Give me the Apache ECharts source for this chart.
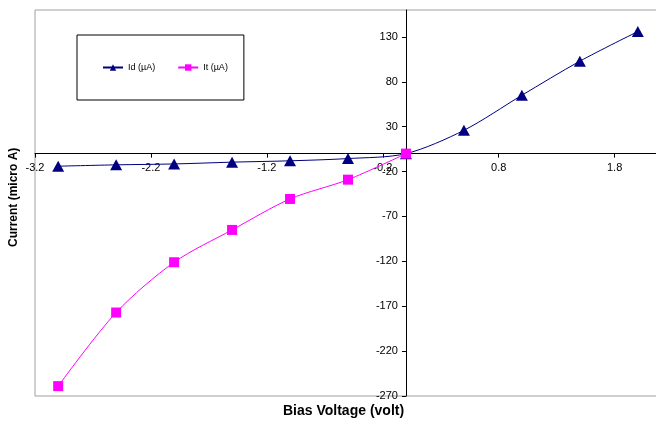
<!DOCTYPE html>
<html>
<head>
<meta charset="utf-8">
<script src="https://cdn.jsdelivr.net/npm/echarts@6/dist/echarts.min.js"></script>
<style>
html,body{margin:0;padding:0;background:#fff;}
#chart{width:656px;height:423px;}
</style>
</head>
<body>
<div id="chart"></div>
<script>
var biasVoltage = [-3.0, -2.5, -2.0, -1.5, -1.0, -0.5, 0.0, 0.5, 1.0, 1.5, 2.0];
var idValues = [-14, -12.5, -11.5, -9.5, -8, -5.5, 0, 26, 65, 103, 136];
var itVoltage = [-3.0, -2.5, -2.0, -1.5, -1.0, -0.5, 0.0];
var itValues = [-259, -177, -121, -85, -50.5, -29, 0];
var xTicks = [-3.2, -2.2, -1.2, -0.2, 0.8, 1.8];
var yTicks = [-270, -220, -170, -120, -70, -20, 30, 80, 130];

function pairs(xs, ys) { return xs.map(function (x, i) { return [x, ys[i]]; }); }

var font = 'Liberation Sans, Arial, sans-serif';
var gridLeft = 35, gridTop = 10, gridRight = -5, gridBottom = 27;
var W = 656, H = 423;
var chart = echarts.init(document.getElementById('chart'));
chart.setOption({
  animation: false,
  backgroundColor: '#fff',
  grid: {
    left: gridLeft, top: gridTop, right: gridRight, bottom: gridBottom,
    show: true, borderColor: '#a0a0a0', borderWidth: 1,
    outerBoundsMode: 'none'
  },
  legend: {
    left: 77, top: 35,
    orient: 'horizontal',
    backgroundColor: '#fff',
    borderColor: '#000', borderWidth: 1,
    padding: [28, 16, 28, 25],
    itemWidth: 20, itemHeight: 8, itemGap: 22,
    textStyle: { fontFamily: font, fontSize: 9, color: '#000' },
    data: ['Id (µA)', 'It (µA)']
  },
  xAxis: {
    type: 'value', min: -3.2, max: 2.2,
    axisLine: { onZero: false, lineStyle: { color: '#000', width: 1 } },
    axisTick: { show: true, length: 4, customValues: xTicks, lineStyle: { color: '#000' } },
    axisLabel: { customValues: xTicks, margin: 9, fontFamily: font, fontSize: 11, color: '#000',
      formatter: function (v) { return v.toFixed(1); } },
    splitLine: { show: false }
  },
  yAxis: {
    type: 'value', min: -270, max: 160,
    axisLine: { onZero: false, lineStyle: { color: '#000', width: 1 } },
    axisTick: { show: true, length: 4, customValues: yTicks, lineStyle: { color: '#000' } },
    axisLabel: { customValues: yTicks, margin: 8, fontFamily: font, fontSize: 11, color: '#000' },
    splitLine: { show: false }
  },
  graphic: [
    { type: 'text', left: 283, top: 404,
      style: { text: 'Bias Voltage (volt)', font: 'bold 14px ' + font, fill: '#000' } },
    { type: 'text', x: 8, y: 247, rotation: Math.PI / 2,
      style: { text: 'Current (micro A)', font: 'bold 12px ' + font, fill: '#000' } }
  ],
  series: [
    {
      name: 'Id (µA)', type: 'line', smooth: 0.3,
      data: pairs(biasVoltage, idValues),
      symbol: 'triangle', symbolSize: [12, 11],
      lineStyle: { color: '#000080', width: 1 },
      itemStyle: { color: '#000080' }
    },
    {
      name: 'It (µA)', type: 'line', smooth: 0.3,
      data: pairs(itVoltage, itValues),
      symbol: 'rect', symbolSize: 10,
      lineStyle: { color: '#ff00ff', width: 1 },
      itemStyle: { color: '#ff00ff' }
    }
  ]
});
// Move both axes so they cross at the origin (labels and ticks follow)
var origin = chart.convertToPixel({ gridIndex: 0 }, [0, 0]);
chart.setOption({
  xAxis: { offset: -((H - gridBottom) - origin[1]) },
  yAxis: { offset: -(origin[0] - gridLeft) }
});
</script>
</body>
</html>
